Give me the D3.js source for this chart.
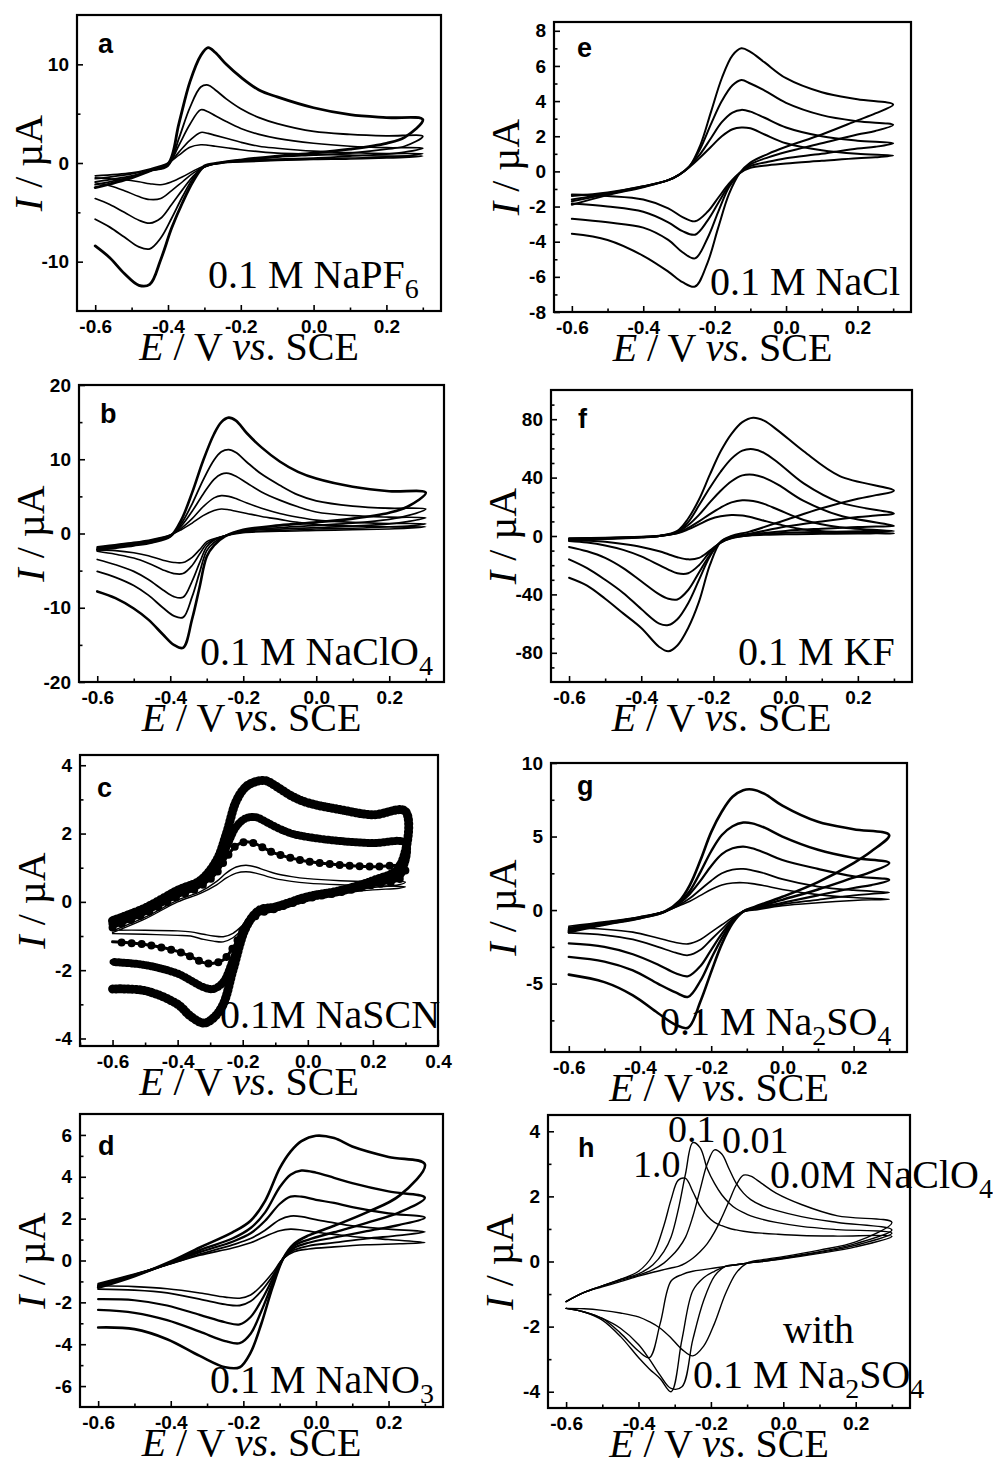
<!DOCTYPE html>
<html><head><meta charset="utf-8">
<script src="https://cdn.jsdelivr.net/npm/d3@7"></script>
<style>body{margin:0;background:#fff;} svg{display:block;}</style>
</head><body><svg id="chart" width="993" height="1466"></svg>
<script>
// ---------------- DATA ----------------
// tick values
const xMajorTicks = [-0.6, -0.4, -0.2, 0.0, 0.2];
const xMinorTicks = [-0.5, -0.3, -0.1, 0.1, 0.3];
const cXMajorTicks = [-0.6, -0.4, -0.2, 0.0, 0.2, 0.4];
const cXMinorTicks = [-0.7, -0.5, -0.3, -0.1, 0.1, 0.3];
const aYMajor = [-10, 0, 10];          const aYMinor = [-5, 5];
const bYMajor = [-20, -10, 0, 10, 20]; const bYMinor = [-15, -5, 5, 15];
const cYMajor = [-4, -2, 0, 2, 4];     const cYMinor = [-3, -1, 1, 3];
const dYMajor = [-6, -4, -2, 0, 2, 4, 6]; const dYMinor = [-5, -3, -1, 1, 3, 5];
const eYMajor = [-8, -6, -4, -2, 0, 2, 4, 6, 8]; const eYMinor = [-7, -5, -3, -1, 1, 3, 5, 7];
const fYMajor = [-80, -40, 0, 40, 80]; const fYMinor = [-90, -70, -60, -50, -30, -20, -10, 10, 20, 30, 50, 60, 70, 90];
const gYMajor = [-5, 0, 5, 10];        const gYMinor = [-7.5, -2.5, 2.5, 7.5];
const hYMajor = [-4, -2, 0, 2, 4];     const hYMinor = [-3, -1, 1, 3];

// Panel a : 0.1 M NaPF6  (forward scan -0.6 -> 0.3, reverse 0.3 -> -0.6), current in µA
const aFwdE = [-0.6,-0.5,-0.45,-0.4,-0.37,-0.34,-0.31,-0.29,-0.27,-0.24,-0.2,-0.15,-0.1,0,0.1,0.2,0.3];
const aFwd = [
  [-1.3,-1.0,-0.6,0.0,0.8,1.6,1.85,1.8,1.7,1.55,1.35,1.15,1.0,0.9,0.8,0.7,0.7],
  [-1.6,-1.1,-0.7,-0.1,1.1,2.3,3.1,3.0,2.8,2.5,2.1,1.7,1.5,1.2,1.05,0.95,0.95],
  [-1.9,-1.3,-0.8,-0.2,1.8,3.9,5.4,5.2,4.8,4.2,3.5,2.9,2.5,2.0,1.7,1.55,1.5],
  [-2.2,-1.4,-0.8,-0.3,2.5,5.6,7.7,7.9,7.4,6.5,5.5,4.6,4.0,3.2,2.9,2.75,2.7],
  [-2.5,-1.5,-0.8,-0.1,4.0,8.2,10.9,11.7,11.2,10.0,8.7,7.4,6.7,5.6,4.9,4.6,4.4]
];
const aRevE = [0.3,0.25,0.2,0.1,0,-0.1,-0.2,-0.26,-0.3,-0.33,-0.36,-0.39,-0.42,-0.45,-0.48,-0.52,-0.56,-0.6];
const aRev = [
  [0.7,0.55,0.5,0.4,0.35,0.25,0.1,0.0,-0.3,-0.8,-1.4,-1.9,-2.2,-2.1,-1.9,-1.7,-1.6,-1.5],
  [0.95,0.7,0.6,0.5,0.4,0.3,0.15,0.0,-0.4,-1.0,-1.9,-2.8,-3.6,-3.7,-3.4,-2.8,-2.3,-2.0],
  [1.5,1.1,0.9,0.7,0.5,0.4,0.2,0.0,-0.4,-1.3,-2.7,-4.2,-5.6,-6.1,-5.8,-5.0,-4.2,-3.6],
  [2.7,1.7,1.4,1.0,0.8,0.6,0.3,0.0,-0.4,-1.5,-3.4,-5.6,-7.6,-8.7,-8.5,-7.5,-6.5,-5.7],
  [4.4,2.6,2.0,1.4,1.0,0.7,0.3,0.0,-0.3,-1.8,-4.0,-6.6,-9.8,-12.3,-12.4,-11.2,-9.6,-8.4]
];

// Panel b : 0.1 M NaClO4
const bFwdE = [-0.6,-0.5,-0.45,-0.4,-0.37,-0.34,-0.31,-0.28,-0.26,-0.24,-0.22,-0.19,-0.15,-0.1,-0.05,0,0.1,0.2,0.3];
const bFwd = [
  [-1.8,-1.2,-0.8,-0.2,0.5,1.4,2.4,3.1,3.3,3.2,3.0,2.7,2.3,1.9,1.5,1.2,1.0,0.9,0.9],
  [-1.9,-1.3,-0.9,-0.2,0.7,2.0,3.6,4.8,5.1,5.0,4.7,4.1,3.4,2.7,2.2,1.8,1.5,1.35,1.3],
  [-2.0,-1.4,-1.0,-0.3,1.0,3.0,5.3,7.3,8.0,8.1,7.7,6.8,5.6,4.5,3.6,2.9,2.4,2.2,2.1],
  [-2.1,-1.5,-1.1,-0.4,1.3,4.0,7.2,9.9,11.0,11.3,10.9,9.6,8.0,6.5,5.2,4.4,3.7,3.4,3.3],
  [-2.2,-1.6,-1.2,-0.4,1.8,5.5,9.8,13.4,15.0,15.6,15.2,13.5,11.6,9.7,8.3,7.4,6.3,5.7,5.5]
];
const bRevE = [0.3,0.25,0.2,0.1,0,-0.1,-0.2,-0.25,-0.28,-0.3,-0.32,-0.34,-0.365,-0.39,-0.42,-0.46,-0.5,-0.55,-0.6];
const bRev = [
  [0.9,0.7,0.6,0.5,0.4,0.3,0.1,-0.3,-0.7,-1.1,-2.2,-3.2,-3.9,-3.9,-3.6,-3.0,-2.6,-2.3,-2.2],
  [1.3,1.0,0.9,0.7,0.6,0.4,0.2,-0.3,-0.8,-1.4,-2.8,-4.3,-5.4,-5.4,-4.9,-4.0,-3.3,-2.8,-2.4],
  [2.1,1.6,1.3,1.0,0.8,0.6,0.3,-0.3,-0.9,-1.8,-4.0,-6.4,-8.6,-8.5,-7.6,-6.2,-5.1,-4.2,-3.5],
  [3.3,2.4,1.9,1.4,1.1,0.8,0.4,-0.3,-1.2,-2.3,-5.3,-8.5,-11.3,-11.1,-10.0,-8.3,-7.0,-5.9,-5.1],
  [5.5,3.6,2.8,2.0,1.5,1.1,0.5,-0.4,-1.6,-3.1,-7.3,-11.5,-15.4,-15.0,-13.6,-11.6,-10.1,-8.7,-7.8]
];

// Panel c : 0.1 M NaSCN
const cFwdE = [-0.6,-0.5,-0.4,-0.33,-0.28,-0.25,-0.22,-0.19,-0.16,-0.13,-0.1,-0.05,0,0.1,0.2,0.3];
const cFwd = [
  [-0.9,-0.5,0.0,0.25,0.5,0.7,0.84,0.88,0.84,0.76,0.68,0.6,0.55,0.5,0.47,0.44],
  [-0.85,-0.45,0.05,0.3,0.6,0.85,1.02,1.07,1.02,0.92,0.83,0.74,0.68,0.62,0.59,0.58],
  [-0.75,-0.35,0.15,0.45,0.85,1.3,1.65,1.76,1.7,1.55,1.42,1.28,1.18,1.08,1.03,1.02],
  [-0.65,-0.25,0.25,0.55,1.0,1.6,2.2,2.45,2.48,2.35,2.2,2.0,1.9,1.78,1.72,1.72],
  [-0.55,-0.18,0.34,0.63,1.22,2.0,2.95,3.37,3.52,3.55,3.4,3.1,2.9,2.7,2.55,2.65]
];
const cRevE = [0.3,0.28,0.2,0.1,0,-0.1,-0.15,-0.19,-0.23,-0.26,-0.29,-0.32,-0.36,-0.4,-0.5,-0.6];
const cRev = [
  [0.44,0.4,0.35,0.25,0.1,-0.15,-0.3,-0.6,-0.92,-1.02,-1.0,-0.95,-0.88,-0.85,-0.83,-0.83],
  [0.58,0.5,0.42,0.28,0.12,-0.15,-0.35,-0.7,-1.05,-1.17,-1.15,-1.1,-1.0,-0.98,-0.95,-0.93],
  [1.02,0.65,0.5,0.28,0.1,-0.2,-0.35,-0.7,-1.35,-1.7,-1.8,-1.78,-1.6,-1.45,-1.25,-1.17],
  [1.72,0.8,0.55,0.3,0.12,-0.18,-0.3,-0.7,-1.7,-2.35,-2.55,-2.5,-2.3,-2.1,-1.85,-1.76],
  [2.65,1.0,0.62,0.33,0.15,-0.15,-0.25,-0.75,-2.0,-3.0,-3.4,-3.55,-3.35,-3.0,-2.6,-2.55]
];

// Panel d : 0.1 M NaNO3
const dFwdE = [-0.6,-0.5,-0.4,-0.32,-0.23,-0.18,-0.14,-0.1,-0.07,-0.04,0,0.05,0.1,0.2,0.3];
const dFwd = [
  [-1.1,-0.65,-0.15,0.25,0.6,0.85,1.15,1.42,1.5,1.46,1.35,1.25,1.15,1.0,0.86],
  [-1.15,-0.67,-0.15,0.3,0.75,1.05,1.45,1.95,2.12,2.1,1.95,1.8,1.65,1.5,1.37],
  [-1.2,-0.7,-0.12,0.4,0.9,1.3,1.9,2.7,3.05,3.05,2.9,2.75,2.55,2.25,2.05],
  [-1.25,-0.72,-0.1,0.5,1.05,1.55,2.3,3.5,4.1,4.3,4.2,3.95,3.7,3.3,3.0],
  [-1.3,-0.75,-0.05,0.62,1.34,1.9,2.85,4.4,5.2,5.7,5.96,5.85,5.45,4.95,4.6]
];
const dRevE = [0.3,0.23,0.14,0.05,-0.02,-0.06,-0.09,-0.12,-0.15,-0.18,-0.21,-0.25,-0.32,-0.41,-0.5,-0.6];
const dRev = [
  [0.86,0.8,0.75,0.65,0.55,0.42,0.1,-0.6,-1.2,-1.65,-1.8,-1.75,-1.55,-1.35,-1.25,-1.21],
  [1.37,1.2,1.05,0.85,0.7,0.5,0.1,-0.75,-1.45,-1.95,-2.15,-2.1,-1.85,-1.55,-1.42,-1.37],
  [2.05,1.7,1.4,1.1,0.85,0.6,0.1,-0.9,-1.9,-2.7,-3.05,-2.95,-2.6,-2.15,-1.9,-1.85],
  [3.0,2.3,1.8,1.35,1.0,0.7,0.1,-1.1,-2.4,-3.5,-3.95,-3.85,-3.4,-2.85,-2.5,-2.36],
  [4.6,3.1,2.3,1.66,1.2,0.8,0.1,-1.3,-3.0,-4.4,-5.1,-5.1,-4.56,-3.76,-3.28,-3.2]
];

// Panel e : 0.1 M NaCl
const eFwdE = [-0.6,-0.5,-0.4,-0.33,-0.3,-0.27,-0.24,-0.21,-0.18,-0.15,-0.125,-0.1,-0.06,0,0.1,0.2,0.3];
const eFwd = [
  [-1.4,-1.2,-0.85,-0.5,-0.2,0.25,0.8,1.4,2.0,2.4,2.5,2.45,2.1,1.6,1.2,1.0,0.9],
  [-1.6,-1.25,-0.85,-0.5,-0.2,0.3,1.0,1.9,2.8,3.35,3.5,3.4,3.05,2.5,2.0,1.75,1.6],
  [-1.7,-1.3,-0.88,-0.5,-0.2,0.3,1.3,2.7,4.0,4.9,5.2,5.0,4.6,3.9,3.2,2.85,2.65],
  [-1.9,-1.35,-0.9,-0.5,-0.2,0.3,1.5,3.4,5.3,6.6,7.0,6.8,6.2,5.3,4.5,4.1,3.8]
];
const eRevE = [0.3,0.25,0.2,0.1,0,-0.05,-0.1,-0.13,-0.16,-0.19,-0.22,-0.255,-0.29,-0.33,-0.4,-0.5,-0.6];
const eRev = [
  [0.9,0.8,0.75,0.6,0.45,0.35,0.2,-0.1,-0.7,-1.5,-2.3,-2.84,-2.6,-2.1,-1.6,-1.4,-1.32],
  [1.6,1.4,1.3,1.0,0.75,0.55,0.3,-0.1,-0.8,-1.8,-2.8,-3.6,-3.4,-2.9,-2.3,-2.0,-1.83],
  [2.65,2.3,2.1,1.6,1.1,0.8,0.4,-0.1,-0.9,-2.3,-3.8,-4.95,-4.6,-3.9,-3.2,-2.9,-2.7],
  [3.8,3.3,2.9,2.1,1.4,1.0,0.5,-0.1,-1.3,-3.2,-5.2,-6.55,-6.3,-5.7,-4.8,-3.9,-3.55]
];

// Panel f : 0.1 M KF
const fFwdE = [-0.6,-0.5,-0.4,-0.35,-0.3,-0.27,-0.24,-0.21,-0.18,-0.15,-0.12,-0.09,-0.06,-0.02,0.05,0.15,0.3];
const fFwd = [
  [-1.5,-1.2,-0.5,0.2,1.8,4.5,8,11.5,13.5,14.4,14,12.5,10.5,8,4.5,2.7,1.8],
  [-1.8,-1.4,-0.6,0,2,5.5,10,15,19.5,23,24.5,24,22,18,11,6,3.4],
  [-2,-1.5,-0.7,0,2.5,7.5,14.5,23,31,37.5,41.5,42,40,35,24,14,6.9],
  [-2.5,-1.8,-0.8,0,3,9.5,21,33,44,53,58.5,59.5,57,50,36,23,15.3],
  [-3,-2,-1,0,3.5,12,25,42,58,70,78,81,79,72,58,41,31]
];
const fRevE = [0.3,0.25,0.2,0.1,0,-0.1,-0.15,-0.18,-0.21,-0.24,-0.27,-0.3,-0.325,-0.35,-0.4,-0.45,-0.5,-0.55,-0.6];
const fRev = [
  [1.8,1.8,1.7,1.5,1.2,0.3,-1.5,-4.5,-10,-15,-16,-14.5,-12.5,-10.5,-7.5,-5.5,-4,-3.2,-2.7],
  [3.4,3.3,3.2,2.8,2.2,0.5,-1.2,-4.5,-11,-20,-25.5,-25.5,-23,-20,-14,-9.5,-6.5,-4.5,-3.4],
  [6.9,6.5,6.2,5,3.5,0.8,-1,-4.5,-13,-25,-37,-43.5,-43,-40,-31,-22,-15,-10.5,-7.5],
  [15.3,14,13,10,6.5,1.5,-0.5,-4,-14,-30,-46,-57,-61,-60,-50,-39,-30,-22,-16],
  [31,28,25.5,19,11,3,0,-4,-20,-45,-63,-75,-79,-76,-63,-53,-43,-34,-28.6]
];

// Panel g : 0.1 M Na2SO4
const gFwdE = [-0.6,-0.5,-0.4,-0.33,-0.29,-0.26,-0.23,-0.2,-0.17,-0.14,-0.11,-0.085,-0.05,0,0.1,0.2,0.3];
const gFwd = [
  [-1.1,-0.8,-0.45,-0.1,0.3,0.6,1.0,1.4,1.7,1.84,1.86,1.8,1.65,1.4,1.05,0.85,0.73],
  [-1.2,-0.85,-0.5,-0.1,0.35,0.8,1.4,2.0,2.5,2.75,2.8,2.7,2.5,2.1,1.6,1.35,1.2],
  [-1.3,-0.9,-0.5,-0.1,0.45,1.1,2.0,3.0,3.8,4.2,4.32,4.2,3.9,3.4,2.8,2.3,2.05],
  [-1.4,-0.95,-0.55,-0.1,0.5,1.3,2.6,4.0,5.1,5.7,5.95,5.9,5.6,5.0,4.1,3.55,3.2],
  [-1.5,-1.0,-0.55,-0.1,0.6,1.7,3.4,5.3,6.7,7.7,8.15,8.2,7.9,7.1,6.0,5.5,5.1]
];
const gRevE = [0.3,0.25,0.2,0.1,0,-0.08,-0.11,-0.14,-0.17,-0.2,-0.23,-0.265,-0.3,-0.35,-0.42,-0.5,-0.6];
const gRev = [
  [0.73,0.7,0.65,0.5,0.3,0.0,-0.1,-0.5,-1.0,-1.5,-2.0,-2.3,-2.2,-1.9,-1.5,-1.3,-1.2],
  [1.2,1.1,1.0,0.7,0.4,0.05,-0.1,-0.6,-1.3,-2.0,-2.7,-3.07,-2.9,-2.5,-2.0,-1.7,-1.55],
  [2.05,1.7,1.5,1.0,0.5,0.1,-0.1,-0.7,-1.6,-2.7,-3.8,-4.5,-4.3,-3.7,-3.0,-2.5,-2.27],
  [3.2,2.6,2.2,1.4,0.7,0.15,-0.1,-0.8,-1.9,-3.3,-4.8,-5.9,-5.6,-5.0,-4.1,-3.5,-3.18],
  [5.1,4.0,3.2,1.9,0.9,0.2,-0.1,-0.9,-2.3,-4.2,-6.2,-8.0,-7.8,-7.0,-5.8,-4.9,-4.39]
];

// Panel h : 0.1 M Na2SO4 with 1.0 / 0.1 / 0.01 / 0.0 M NaClO4
const hFwdE = [-0.6,-0.55,-0.5,-0.45,-0.4,-0.36,-0.33,-0.31,-0.29,-0.27,-0.25,-0.23,-0.21,-0.19,-0.17,-0.15,-0.13,-0.11,-0.09,-0.06,-0.02,0.05,0.15,0.3];
const hFwd = [
  [-1.23,-0.95,-0.75,-0.55,-0.3,0.2,1.1,1.9,2.5,2.55,2.15,1.7,1.4,1.2,1.1,1.02,0.97,0.93,0.9,0.87,0.84,0.8,0.78,0.77],
  [-1.23,-0.95,-0.75,-0.55,-0.38,-0.1,0.3,0.75,1.6,2.7,3.65,3.5,2.85,2.4,2.05,1.8,1.62,1.5,1.4,1.3,1.2,1.08,0.98,0.87],
  [-1.23,-0.95,-0.75,-0.58,-0.42,-0.25,-0.05,0.15,0.4,0.75,1.38,2.2,3.0,3.43,3.3,2.85,2.4,2.1,1.9,1.72,1.57,1.38,1.2,0.97],
  [-1.23,-0.95,-0.78,-0.62,-0.45,-0.33,-0.25,-0.2,-0.15,-0.05,0.1,0.3,0.55,0.9,1.35,1.85,2.35,2.65,2.62,2.4,2.1,1.75,1.4,1.2]
];
const hRevE = [0.3,0.2,0.1,0,-0.06,-0.1,-0.13,-0.16,-0.19,-0.22,-0.25,-0.28,-0.31,-0.34,-0.37,-0.4,-0.45,-0.5,-0.55,-0.6];
const hRev = [
  [0.77,0.45,0.25,0.08,0.0,-0.05,-0.1,-0.15,-0.2,-0.25,-0.3,-0.4,-0.6,-1.9,-2.95,-2.75,-2.2,-1.75,-1.55,-1.44],
  [0.87,0.5,0.28,0.1,0.0,-0.05,-0.1,-0.15,-0.3,-0.5,-0.9,-2.4,-4.0,-3.6,-3.3,-2.95,-2.3,-1.8,-1.55,-1.44],
  [0.97,0.55,0.3,0.12,0.02,-0.05,-0.1,-0.15,-0.45,-1.2,-2.4,-3.85,-3.9,-3.5,-3.0,-2.55,-2.05,-1.75,-1.55,-1.44],
  [1.2,0.6,0.35,0.15,0.05,-0.05,-0.35,-1.0,-1.9,-2.6,-2.9,-2.7,-2.35,-2.05,-1.85,-1.7,-1.58,-1.5,-1.45,-1.44]
];

// text labels
const panelLetters = ["a","b","c","d","e","f","g","h"];
const saltLabels = {
  a: [["0.1 M NaPF"],["6","sub"]],
  b: [["0.1 M NaClO"],["4","sub"]],
  c: [["0.1M NaSCN"]],
  d: [["0.1 M NaNO"],["3","sub"]],
  e: [["0.1 M NaCl"]],
  f: [["0.1 M KF"]],
  g: [["0.1 M Na"],["2","sub"],["SO"],["4","sub"]],
  h: [["0.1 M Na"],["2","sub"],["SO"],["4","sub"]]
};
const hConcLabels = ["1.0", "0.1", "0.01"];
const hSaltLabel = [["0.0M NaClO"],["4","sub"]];
const hWithLabel = "with";

// ---------------- DRAWING ----------------
const SERIF = '"Liberation Serif","Times New Roman",Times,serif';
const SANS = '"Liberation Sans",Arial,Helvetica,sans-serif';
const svg = d3.select("#chart");
svg.append("rect").attr("width", 993).attr("height", 1466).attr("fill", "#fff");

const fmt1 = v => d3.format(".1f")(v).replace("\u2212", "-");
const fmt0 = v => d3.format("d")(v).replace("\u2212", "-");

const layout = {
  a: {box:[77,15,441,311],   xd:[-0.65,0.35], yd:[-15,15],   letter:[98,53],   salt:[208,288]},
  b: {box:[79,385,444,682],  xd:[-0.65,0.35], yd:[-20,20],   letter:[100,423], salt:[200,665]},
  c: {box:[80,755,438,1046], xd:[-0.7,0.4],   yd:[-4.22,4.3], letter:[97,797], salt:[220,1028]},
  d: {box:[80,1114,443,1407],xd:[-0.65,0.35], yd:[-7,7],     letter:[98,1155], salt:[210,1393]},
  e: {box:[554,22,911,312],  xd:[-0.65,0.35], yd:[-8,8.5],   letter:[577,57],  salt:[710,295]},
  f: {box:[551,390,912,682], xd:[-0.65,0.35], yd:[-100,100], letter:[578,428], salt:[738,665]},
  g: {box:[551,763,907,1052],xd:[-0.65,0.35], yd:[-9.65,10], letter:[577,795], salt:[660,1035]},
  h: {box:[548,1115,910,1408],xd:[-0.65,0.35],yd:[-4.5,4.5], letter:[578,1157], salt:[693,1388]}
};
const panelData = {
  a: {fE:aFwdE, f:aFwd, rE:aRevE, r:aRev, yM:aYMajor, ym:aYMinor},
  b: {fE:bFwdE, f:bFwd, rE:bRevE, r:bRev, yM:bYMajor, ym:bYMinor},
  c: {fE:cFwdE, f:cFwd, rE:cRevE, r:cRev, yM:cYMajor, ym:cYMinor},
  d: {fE:dFwdE, f:dFwd, rE:dRevE, r:dRev, yM:dYMajor, ym:dYMinor},
  e: {fE:eFwdE, f:eFwd, rE:eRevE, r:eRev, yM:eYMajor, ym:eYMinor},
  f: {fE:fFwdE, f:fFwd, rE:fRevE, r:fRev, yM:fYMajor, ym:fYMinor},
  g: {fE:gFwdE, f:gFwd, rE:gRevE, r:gRev, yM:gYMajor, ym:gYMinor},
  h: {fE:hFwdE, f:hFwd, rE:hRevE, r:hRev, yM:hYMajor, ym:hYMinor}
};
const curveWidths = {
  a:[1.6,1.6,1.7,1.8,2.8], b:[1.6,1.6,1.7,1.8,2.6], c:[1.4,1.4,3,6,7],
  d:[1.6,1.8,2.2,2.4,2.6], e:[2,2,2,2], f:[2,2,2,2,2],
  g:[1.6,1.8,2.2,2.4,2.6], h:[1.4,1.4,1.4,1.4]
};

function addRichText(sel, parts, size) {
  parts.forEach(p => {
    const t = sel.append("tspan").text(p[0]);
    if (p[1] === "sub") {
      t.attr("font-size", size * 0.7).attr("dy", size * 0.25);
    } else if (sel.selectAll("tspan").size() > 1) {
      t.attr("dy", -size * 0.25);
    }
  });
}

function drawPanel(key) {
  const L = layout[key], D = panelData[key];
  const [x0, y0, x1, y1] = L.box;
  const x = d3.scaleLinear().domain(L.xd).range([x0, x1]);
  const y = d3.scaleLinear().domain(L.yd).range([y1, y0]);
  const g = svg.append("g");

  // curves
  const line = d3.line().x(d => x(d[0])).y(d => y(d[1])).curve(d3.curveCatmullRom.alpha(0.5));
  D.f.forEach((fw, i) => {
    const pts = D.fE.map((e, j) => [e, fw[j]]);
    const rv = D.r[i];
    D.rE.forEach((e, j) => {
      const last = pts[pts.length - 1];
      if (last[0] === e && last[1] === rv[j]) return;
      pts.push([e, rv[j]]);
    });
    const w = curveWidths[key][i];
    g.append("path").attr("d", line(pts)).attr("fill", "none")
      .attr("stroke", "#000").attr("stroke-width", w)
      .attr("stroke-linejoin", "round").attr("stroke-linecap", "round");
    if (key === "c" && i === 2) {
      g.append("path").attr("d", line(pts)).attr("fill", "none")
        .attr("stroke", "#000").attr("stroke-width", 8)
        .attr("stroke-dasharray", "0 10").attr("stroke-linecap", "round");
    }
    if (key === "c" && i >= 3) {
      g.append("path").attr("d", line(pts)).attr("fill", "none")
        .attr("stroke", "#000").attr("stroke-width", w + 2)
        .attr("stroke-dasharray", "1 3").attr("stroke-linecap", "round");
    }
  });

  // axes (ticks inward)
  const xMaj = key === "c" ? cXMajorTicks : xMajorTicks;
  const xMin = key === "c" ? cXMinorTicks : xMinorTicks;
  const styleAxis = a => {
    a.select(".domain").remove();
    a.selectAll("line").attr("stroke", "#000").attr("stroke-width", 1.6);
    a.selectAll("text").attr("font-family", SANS).attr("font-size", 19)
      .attr("font-weight", "bold").attr("fill", "#000");
  };
  g.append("g").attr("transform", `translate(0,${y1})`)
    .call(d3.axisBottom(x).tickValues(xMaj).tickSize(-6).tickPadding(9).tickFormat(fmt1))
    .call(styleAxis);
  g.append("g").attr("transform", `translate(0,${y1})`)
    .call(d3.axisBottom(x).tickValues(xMin).tickSize(-3.5).tickFormat(""))
    .call(styleAxis);
  g.append("g").attr("transform", `translate(${x0},0)`)
    .call(d3.axisLeft(y).tickValues(D.yM).tickSize(-6).tickPadding(8).tickFormat(fmt0))
    .call(styleAxis);
  g.append("g").attr("transform", `translate(${x0},0)`)
    .call(d3.axisLeft(y).tickValues(D.ym).tickSize(-3.5).tickFormat(""))
    .call(styleAxis);

  // frame
  g.append("rect").attr("x", x0).attr("y", y0).attr("width", x1 - x0).attr("height", y1 - y0)
    .attr("fill", "none").attr("stroke", "#000").attr("stroke-width", 2.2);

  // panel letter
  g.append("text").attr("x", L.letter[0]).attr("y", L.letter[1]).text(key)
    .attr("font-family", SANS).attr("font-weight", "bold").attr("font-size", 27);

  // axis titles
  const yt = g.append("text")
    .attr("transform", `translate(${x0 - 49},${(y0 + y1) / 2}) rotate(-90)`)
    .attr("text-anchor", "middle").attr("dy", "0.35em")
    .attr("font-family", SERIF).attr("font-size", 40);
  yt.append("tspan").attr("font-style", "italic").text("I");
  yt.append("tspan").text(" / \u00b5A");

  const xt = g.append("text")
    .attr("x", (x0 + x1) / 2 - 10).attr("y", y1 + 49)
    .attr("text-anchor", "middle")
    .attr("font-family", SERIF).attr("font-size", 40);
  xt.append("tspan").attr("font-style", "italic").text("E");
  xt.append("tspan").text(" / V ");
  xt.append("tspan").attr("font-style", "italic").text("vs");
  xt.append("tspan").text(". SCE");

  // salt label
  const st = g.append("text").attr("x", L.salt[0]).attr("y", L.salt[1])
    .attr("font-family", SERIF).attr("font-size", 40);
  addRichText(st, saltLabels[key], 40);

  if (key === "h") {
    const pos = [[633, 1177], [668, 1142], [722, 1153]];
    hConcLabels.forEach((t, i) => {
      g.append("text").attr("x", pos[i][0]).attr("y", pos[i][1]).text(t)
        .attr("font-family", SERIF).attr("font-size", 38);
    });
    const nt = g.append("text").attr("x", 770).attr("y", 1188)
      .attr("font-family", SERIF).attr("font-size", 40);
    addRichText(nt, hSaltLabel, 40);
    g.append("text").attr("x", 783).attr("y", 1343).text(hWithLabel)
      .attr("font-family", SERIF).attr("font-size", 40);
  }
}

panelLetters.forEach(drawPanel);
</script>
</body></html>
